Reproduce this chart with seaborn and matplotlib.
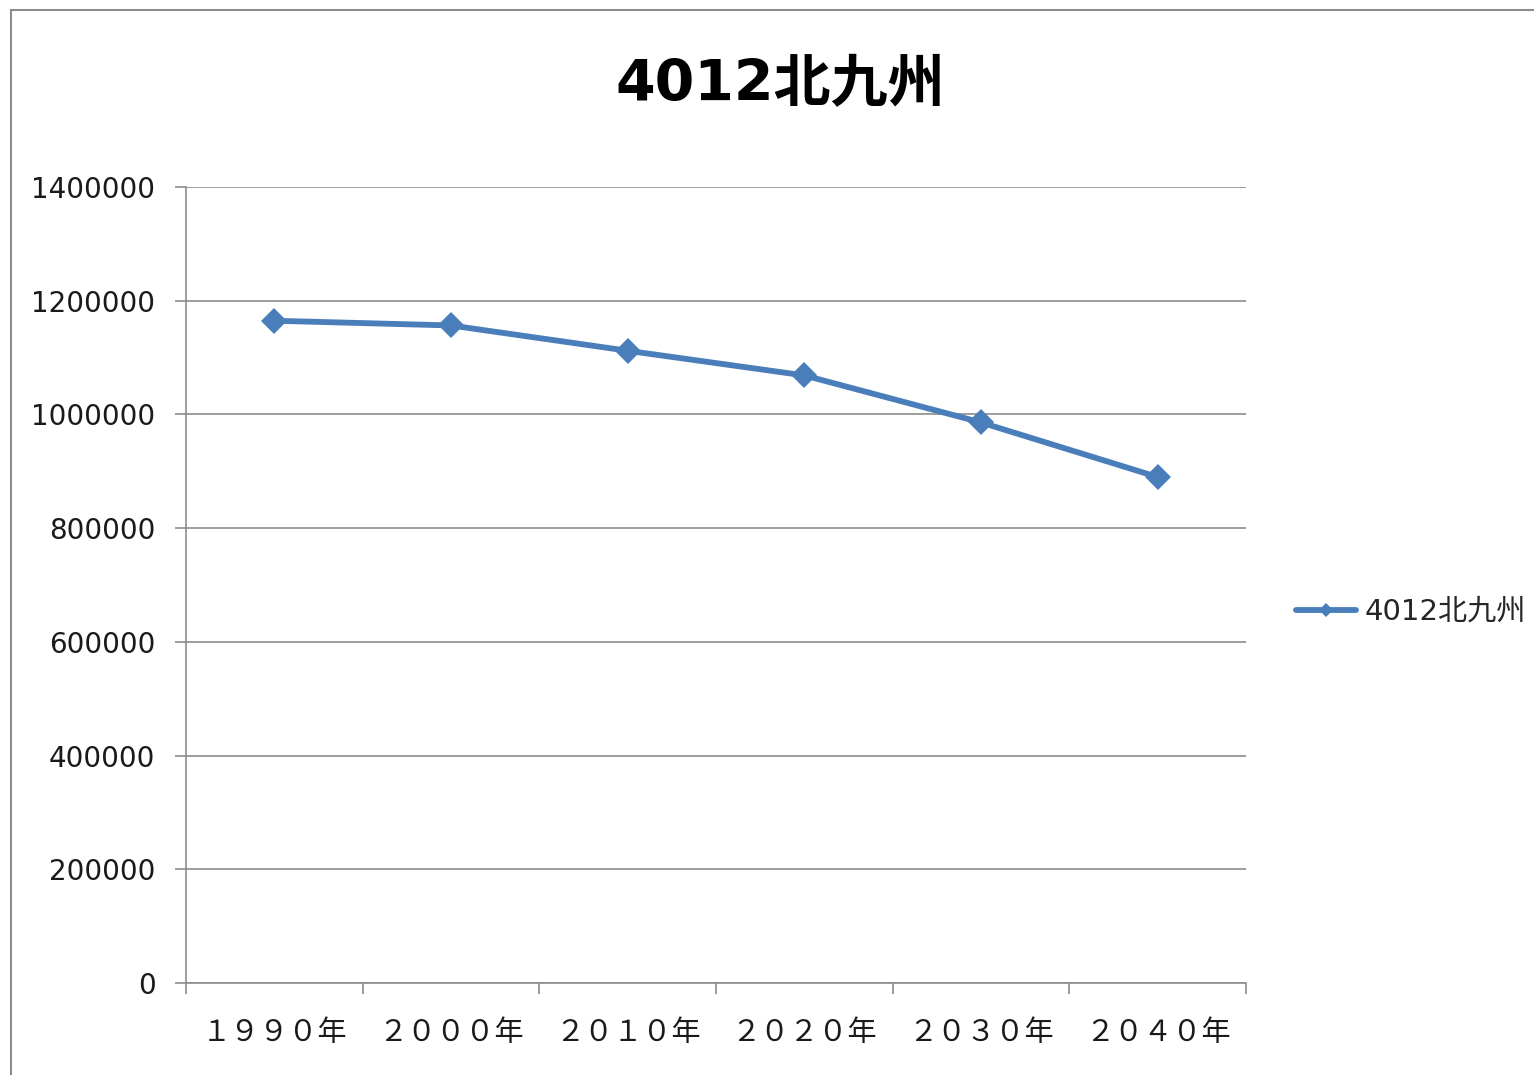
import matplotlib
matplotlib.use("Agg")
import matplotlib.pyplot as plt
from matplotlib.lines import Line2D
from matplotlib.patches import Rectangle
import seaborn as sns
import pandas as pd
import numpy as np

# ---- data ----
years = ["１９９０年", "２０００年", "２０１０年", "２０２０年", "２０３０年", "２０４０年"]
population = [1164800, 1156500, 1112000, 1068600, 985900, 889900]
series_name = "4012北九州"
title = "4012北九州"
yticks = [0, 200000, 400000, 600000, 800000, 1000000, 1200000, 1400000]

sns.set_theme(style="white")
plt.rcParams['font.family'] = ['DejaVu Sans', 'Noto Sans CJK JP']

W, H = 1534, 1075
fig = plt.figure(figsize=(W / 100, H / 100), dpi=100)
fig.patch.set_facecolor("white")

# outer chart frame (left/top visible)
fig.patches.append(Rectangle((11 / W, -0.05), 1.2, 1 - 10 / H + 0.05,
                             transform=fig.transFigure, fill=False,
                             edgecolor="#8c8c8c", linewidth=1.5))

left, right, top, bottom = 186, 1246, 187, 983
ax = fig.add_axes([left / W, 1 - bottom / H, (right - left) / W, (bottom - top) / H])

df = pd.DataFrame({"year": years, "pop": population})
color = "#4A7EBB"
sns.lineplot(data=df, x="year", y="pop", ax=ax, sort=False, color=color,
             linewidth=4.2, marker="D", markersize=13.5, markeredgecolor=color,
             markeredgewidth=0, zorder=3)

ax.set_xlim(-0.5, len(years) - 0.5)
ax.set_ylim(0, 1400000)
ax.set_yticks(yticks)
ax.set_yticklabels([str(v) for v in yticks], fontsize=20, color="#1a1a1a")
ax.set_xticks(range(len(years)))
ax.set_xticklabels(years, fontsize=21, color="#1a1a1a",
                   family=['Noto Sans CJK JP', 'DejaVu Sans'])
ax.set_xticks(np.arange(-0.5, len(years), 1.0), minor=True)
ax.tick_params(axis="x", which="major", length=0, pad=25, bottom=False)
ax.tick_params(axis="x", which="minor", length=8, width=1.2, color="#8c8c8c",
               direction="out", bottom=True)
ax.tick_params(axis="y", length=8, width=1.2, color="#8c8c8c", direction="out", pad=14, left=True)
ax.set_xlabel("")
ax.set_ylabel("")

ax.grid(axis="y", color="#8c8c8c", linewidth=1.2)
ax.grid(axis="x", visible=False)
for s in ["top", "right"]:
    ax.spines[s].set_visible(False)
for s in ["left", "bottom"]:
    ax.spines[s].set_color("#8c8c8c")
    ax.spines[s].set_linewidth(1.2)

fig.text(780 / W, 1 - 86 / H, title, ha="center", va="center", fontsize=41,
         fontweight="bold", color="black", family=['DejaVu Sans', 'Noto Sans CJK JP'])

handle = Line2D([], [], color=color, linewidth=4.2, marker="D", markersize=7,
                markeredgewidth=0)
fig.legend([handle], [series_name], loc="center left",
           bbox_to_anchor=(1270 / W, 1 - 612 / H), frameon=False,
           handlelength=2.05, handletextpad=0.3,
           prop={'family': ['DejaVu Sans', 'Noto Sans CJK JP'], 'size': 21})

fig.savefig("out.png", dpi=100, facecolor="white")
